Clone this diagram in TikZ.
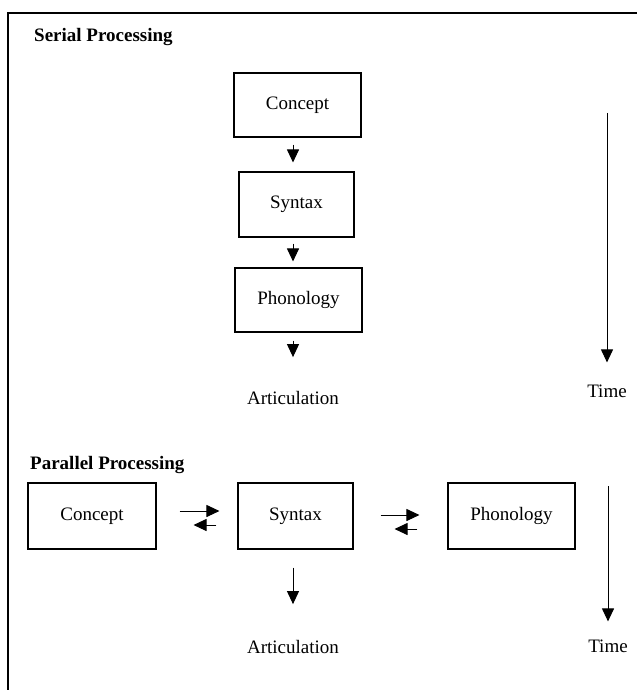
\documentclass[tikz,border=0pt]{standalone}
\usepackage{fontspec}
\setmainfont{Liberation Serif}
\usetikzlibrary{calc,arrows.meta}
\newcommand{\pixel}{1pt}
\newcommand{\labelfont}{\fontsize{19}{22}\selectfont}
\tikzset{
	box/.style={draw, line width=1.1pt, inner sep=0pt, minimum height=65},
	flow/.style={-{Triangle[length=13pt,width=12pt]}, line width=1pt},
	heading/.style={anchor=west, inner sep=0pt, font=\labelfont\bfseries},
	plain/.style={inner sep=0pt}
}

\begin{document}
\begin{tikzpicture}[x=\pixel,y=-\pixel,font=\labelfont]
	\useasboundingbox (0,0) rectangle (637,690);
	\draw[line width=2.4pt] (8,690) -- (8,13) -- (637,13);

	\node[heading] (serialhead) at (34,37) {Serial Processing};
	\node[box, minimum width=127, minimum height=64] (conceptS) at (297.5,105) {Concept};
	\node[box, minimum width=115] (syntaxS) at (296.5,204.5) {Syntax};
	\node[box, minimum width=127, minimum height=64] (phonologyS) at (298.5,300) {Phonology};
	\node[plain] (articS) at (293,398) {Articulation};
	\coordinate (timetopS) at (607,113);
	\node[plain] (timeS) at (607,391) {Time};

	\draw[flow, shorten <=7pt, shorten >=9pt] (conceptS.south -| articS) -- (syntaxS.north -| articS);
	\draw[flow, shorten <=6pt, shorten >=6pt] (syntaxS.south -| articS) -- (phonologyS.north -| articS);
	\draw[flow, shorten <=8pt, shorten >=34pt] (phonologyS.south -| articS) -- (articS.north);
	\draw[flow, shorten >=22pt] (timetopS) -- (timeS.north);

	\node[heading] (parallelhead) at (30,465) {Parallel Processing};
	\node[box, minimum width=128, minimum height=66] (conceptP) at (92,516) {Concept};
	\node[box, minimum width=115, minimum height=66] (syntaxP) at (295.5,516) {Syntax};
	\node[box, minimum width=127, minimum height=66] (phonologyP) at (511.5,516) {Phonology};
	\node[plain] (articP) at (293,647) {Articulation};
	\coordinate (timetopP) at (608,486);
	\node[plain] (timeP) at (608,646) {Time};

	\draw[flow, shorten <=23pt, shorten >=18pt] ($(conceptP.east)+(0,-5)$) -- ($(syntaxP.west)+(0,-5)$);
	\draw[flow, shorten <=21pt, shorten >=37pt] ($(syntaxP.west)+(0,9)$) -- ($(conceptP.east)+(0,9)$);
	\draw[flow, shorten <=27pt, shorten >=28pt] ($(syntaxP.east)+(0,-1)$) -- ($(phonologyP.west)+(0,-1)$);
	\draw[flow, shorten <=30pt, shorten >=41pt] ($(phonologyP.west)+(0,13)$) -- ($(syntaxP.east)+(0,13)$);
	\draw[flow, shorten <=18pt, shorten >=36pt] (syntaxP.south -| articP) -- (articP.north);
	\draw[flow, shorten >=18pt] (timetopP) -- (timeP.north);
\end{tikzpicture}
\end{document}
